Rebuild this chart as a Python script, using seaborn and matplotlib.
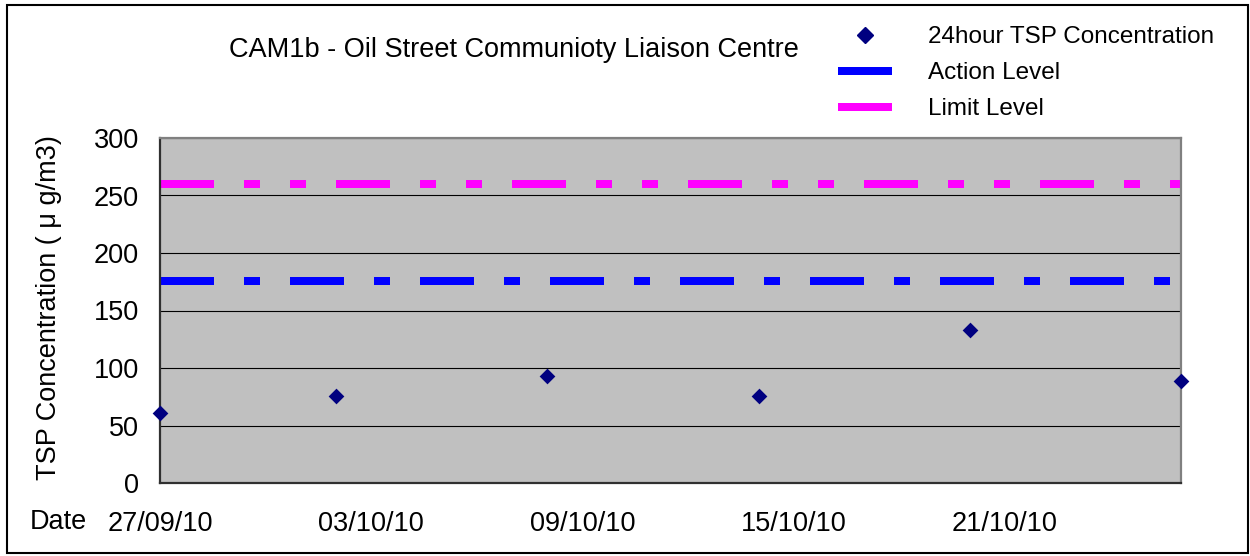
import matplotlib
matplotlib.use("Agg")
import matplotlib.pyplot as plt
import matplotlib.dates as mdates
from matplotlib.lines import Line2D
from matplotlib.patches import Rectangle
import seaborn as sns
import pandas as pd

# ---- data ----
sample_dates = ["2010-09-27", "2010-10-02", "2010-10-08", "2010-10-14", "2010-10-20", "2010-10-26"]
tsp_values = [61, 76, 93, 76, 133, 89]
level_dates = ["2010-09-27", "2010-10-26"]
action_level = [176, 176]
limit_level = [260, 260]
tick_dates = ["2010-09-27", "2010-10-03", "2010-10-09", "2010-10-15", "2010-10-21"]
y_ticks = [0, 50, 100, 150, 200, 250, 300]

title = "CAM1b - Oil Street Communioty Liaison Centre"
ylabel = "TSP Concentration ( \u03bc g/m3)"
series_label = "24hour TSP Concentration"
action_label = "Action Level"
limit_label = "Limit Level"

sns.set_style("white")
plt.rcParams["font.family"] = ["Liberation Sans", "DejaVu Sans"]
plt.rcParams["text.color"] = "black"
plt.rcParams["axes.labelcolor"] = "black"

df_pts = pd.DataFrame({"date": pd.to_datetime(sample_dates), "tsp": tsp_values})
df_lvl = pd.DataFrame({"date": pd.to_datetime(level_dates), "action": action_level, "limit": limit_level})

fig = plt.figure(figsize=(12.5, 5.56), dpi=100)
ax = fig.add_axes([160 / 1250, 1 - 483 / 556, (1181 - 160) / 1250, (483 - 138) / 556])
ax.set_facecolor("#C0C0C0")

FS = 19.5
LFS = 17.5
lw = 5.76

sns.lineplot(data=df_lvl, x="date", y="limit", ax=ax, color="#FF00FF", linewidth=lw,
             legend=False, clip_on=False)
sns.lineplot(data=df_lvl, x="date", y="action", ax=ax, color="#0000FF", linewidth=lw,
             legend=False, clip_on=False)
lines = ax.get_lines()
lines[0].set_dashes((6.75, 3.75, 2, 3.75, 2, 3.75))
lines[1].set_dashes((6.75, 3.75, 2, 3.75))
for ln in lines:
    ln.set_solid_capstyle("butt")
    ln.set_dash_capstyle("butt")

sns.scatterplot(data=df_pts, x="date", y="tsp", ax=ax, marker="D", s=64, color="#000080",
                edgecolor="#000080", linewidth=0, zorder=5, clip_on=False)

ax.set_xlim(pd.Timestamp(level_dates[0]), pd.Timestamp(level_dates[1]))
ax.set_ylim(0, 300)
ax.set_yticks(y_ticks)
ax.set_xticks(pd.to_datetime(tick_dates))
ax.xaxis.set_major_formatter(mdates.DateFormatter("%d/%m/%y"))
ax.yaxis.grid(True, color="black", linewidth=0.8)
ax.xaxis.grid(False)
ax.set_axisbelow(True)

ax.tick_params(axis="both", direction="in", length=6, width=1, color="black",
               labelsize=FS, labelcolor="black")
ax.tick_params(axis="x", pad=20)
ax.tick_params(axis="y", pad=15)
ax.set_xlabel("")
ax.set_ylabel("")

for side in ["left", "bottom"]:
    ax.spines[side].set_color("#303030")
    ax.spines[side].set_linewidth(1.6)
for side in ["top", "right"]:
    ax.spines[side].set_color("#808080")
    ax.spines[side].set_linewidth(1.6)

fig.text(49 / 1250, 1 - 308 / 556, ylabel, rotation=90, ha="center", va="center", fontsize=FS)
fig.text(58 / 1250, 1 - 522 / 556, "Date", ha="center", va="center", fontsize=FS)
fig.text(514 / 1250, 1 - 50 / 556, title, ha="center", va="center", fontsize=FS)

handles = [
    Line2D([], [], linestyle="none", marker="D", markersize=8, color="#000080"),
    Line2D([], [], color="#0000FF", linewidth=lw, solid_capstyle="butt"),
    Line2D([], [], color="#FF00FF", linewidth=lw, solid_capstyle="butt"),
]
fig.legend(handles, [series_label, action_label, limit_label], loc="upper left",
           bbox_to_anchor=(838 / 1250, 1 - 26 / 556), frameon=False, fontsize=LFS,
           handlelength=54 / (LFS * 100 / 72), handletextpad=36 / (LFS * 100 / 72),
           borderpad=0, borderaxespad=0, labelspacing=0.58, numpoints=1)

fig.patches.append(Rectangle((6.5 / 1250, 3 / 556), (1248 - 6.5) / 1250, (551 - 3) / 556,
                             transform=fig.transFigure, fill=False, edgecolor="black",
                             linewidth=1.5))

fig.savefig("out.png", dpi=100)
